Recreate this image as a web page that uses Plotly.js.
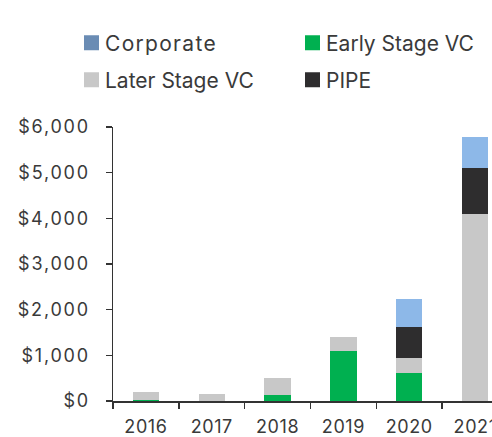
<!DOCTYPE html>
<html>
<head>
<meta charset="utf-8">
<script src="https://cdn.plot.ly/plotly-3.0.1.min.js"></script>
<style>
html,body{margin:0;padding:0;overflow:hidden;background:#fff;}
#chart{width:508px;height:437px;}
.legendtext{letter-spacing:1.3px;}
.scatterpts{translate:6.5px 0;}
.ytick text{letter-spacing:1.8px;}
.xtick text{letter-spacing:0.6px;}
</style>
</head>
<body>
<div id="chart"></div>
<script>
const years = ['2016','2017','2018','2019','2020','2021'];
const earlyStageVC = [25, 0, 140, 1100, 610, 0];
const laterStageVC = [175, 150, 360, 300, 330, 4100];
const pipe = [0, 0, 0, 0, 670, 1000];
const corporate = [0, 0, 0, 0, 630, 680];
const yTicks = [0, 1000, 2000, 3000, 4000, 5000, 6000];
const yTickLabels = ['$0','$1,000','$2,000','$3,000','$4,000','$5,000','$6,000'];

const FONT = 'Inter, "DejaVu Sans", sans-serif';
const TXT = '#3a3a3a';
const colors = {
  early: '#00b050',
  later: '#c8c8c8',
  pipe: '#2e2d2e',
  corpBar: '#8db8e8',
  corpLegend: '#6a8cb4'
};

function bar(name, y, color) {
  return {type:'bar', name:name, x:years, y:y, marker:{color:color, line:{width:0}},
          width:0.4, showlegend:false, hoverinfo:'x+y+name'};
}
function legendItem(name, color, legend) {
  return {type:'scatter', mode:'markers', name:name, x:[null], y:[null],
          marker:{symbol:'square', size:15, color:color}, legend:legend, showlegend:true, hoverinfo:'skip'};
}

const data = [
  bar('Early Stage VC', earlyStageVC, colors.early),
  bar('Later Stage VC', laterStageVC, colors.later),
  bar('PIPE', pipe, colors.pipe),
  bar('Corporate', corporate, colors.corpBar),
  legendItem('Corporate', colors.corpLegend, 'legend'),
  legendItem('Early Stage VC', colors.early, 'legend2'),
  legendItem('Later Stage VC', colors.later, 'legend3'),
  legendItem('PIPE', colors.pipe, 'legend4')
];

const W = 508, H = 437;
const legendBase = {
  orientation:'h', xref:'container', yref:'container', xanchor:'left', yanchor:'middle',
  font:{family:FONT, size:21, color:TXT}, bgcolor:'rgba(0,0,0,0)', borderwidth:0,
  entrywidthmode:'pixels'
};
const col1 = 65, col2 = 286, row1 = 43, row2 = 80;

const layout = {
  width:W, height:H,
  margin:{l:113, r:0, t:127, b:36, pad:0},
  paper_bgcolor:'#fff', plot_bgcolor:'#fff',
  barmode:'stack',
  font:{family:FONT, color:TXT, size:18},
  showlegend:true,
  legend:Object.assign({}, legendBase, {x:col1/W, y:1-row1/H, entrywidth:190}),
  legend2:Object.assign({}, legendBase, {x:col2/W, y:1-row1/H, entrywidth:178}),
  legend3:Object.assign({}, legendBase, {x:col1/W, y:1-row2/H, entrywidth:190}),
  legend4:Object.assign({}, legendBase, {x:col2/W, y:1-row2/H, entrywidth:178}),
  xaxis:{
    type:'category', range:[-0.5, 5.5], showgrid:false, zeroline:false,
    showline:true, linecolor:'#333', linewidth:1.5,
    ticks:'outside', tickson:'boundaries', ticklen:6, tickwidth:1.5, tickcolor:'#333',
    tickfont:{family:FONT, size:18, color:TXT}, ticklabelstandoff:9
  },
  yaxis:{
    range:[0, 6000], showgrid:false, zeroline:false,
    showline:true, linecolor:'#333', linewidth:1.5,
    ticks:'outside', ticklen:6, tickwidth:1.5, tickcolor:'#333',
    tickvals:yTicks, ticktext:yTickLabels,
    tickfont:{family:FONT, size:18, color:TXT}, ticklabelstandoff:12
  }
};

Plotly.newPlot('chart', data, layout, {displayModeBar:false, staticPlot:true});
</script>
</body>
</html>
